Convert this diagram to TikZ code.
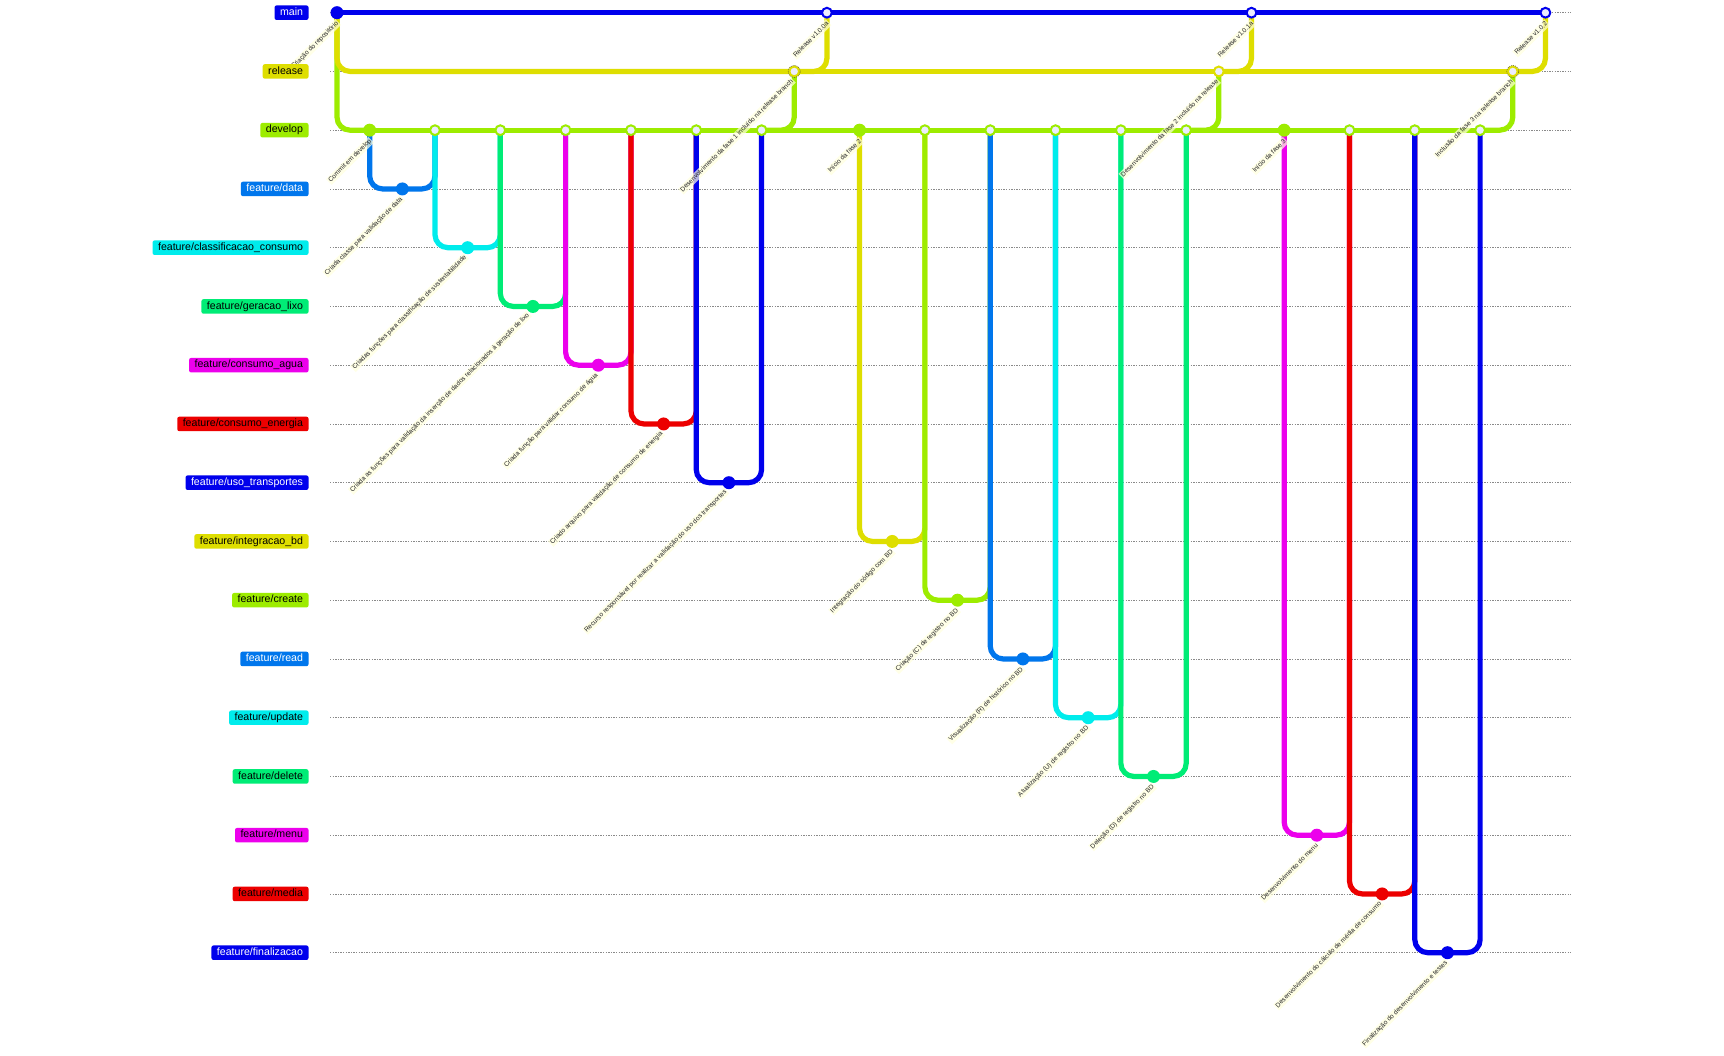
\documentclass[tikz,border=0pt]{standalone}
\usepackage{fontspec}
\setmainfont{Liberation Sans}
\definecolor{c0}{HTML}{0000EC}
\definecolor{c1}{HTML}{DEDE00}
\definecolor{c2}{HTML}{9DEC00}
\definecolor{c3}{HTML}{0076EC}
\definecolor{c4}{HTML}{00ECEC}
\definecolor{c5}{HTML}{00EC76}
\definecolor{c6}{HTML}{EC00EC}
\definecolor{c7}{HTML}{EC0000}
\definecolor{mergefill}{HTML}{ECECFF}
\definecolor{lblbg}{HTML}{FFFFDE}
\definecolor{lanegray}{HTML}{8A8A8A}
\newcommand\clab[5]{\node[clab] (#1) at ({cx(#2)+3-0.08*#4},{ly(#3)+10-0.036*#4}) {#5};}
\begin{document}
\begin{tikzpicture}[x=1pt,y=-1pt,
  declare function={cx(\i)=337+32.66*\i; ly(\k)=12.7+58.75*\k;},
  lane/.style={draw=lanegray, line width=0.65pt, dash pattern=on 1.3pt off 1.3pt},
  arr/.style={line width=5.2pt, rounded corners=13pt},
  cm/.style={circle, inner sep=0pt, outer sep=0pt, minimum size=13pt, fill=#1},
  mg/.style={circle, inner sep=0pt, outer sep=0pt, minimum size=9.8pt, fill=mergefill, draw=#1, line width=2pt},
  blab/.style={font=\fontsize{10.6}{12}\selectfont, rounded corners=2pt, inner xsep=5.5pt, inner ysep=0pt,
    text height=8pt, text depth=2.5pt, minimum height=14.5pt, anchor=east},
  clab/.style={font=\fontsize{6.5}{7}\selectfont, text=black!85, fill=lblbg, fill opacity=0.7, text opacity=1,
    inner sep=1pt, text height=4.8pt, text depth=1.4pt, rotate=45, anchor=east}
]
\fill[white] (0,0) rectangle (1724,1056);
\useasboundingbox (0,0) rectangle (1724,1056);

% lanes
\foreach \k in {0,...,16} {
  \draw[lane] (330,{ly(\k)}) -- (1571,{ly(\k)});
}

% commit positions
\foreach \i/\k in {0/0,1/2,2/3,3/2,4/4,5/2,6/5,7/2,8/6,9/2,10/7,11/2,12/8,13/2,14/1,15/0,
  16/2,17/9,18/2,19/10,20/2,21/11,22/2,23/12,24/2,25/13,26/2,27/1,28/0,29/2,30/14,31/2,
  32/15,33/2,34/16,35/2,36/1,37/0} {
  \coordinate (p\i) at ({cx(\i)},{ly(\k)});
}

% connectors
\draw[arr,c2] (p0) |- (p1);
\draw[arr,c3] (p1) |- (p2);
\draw[arr,c2] (p1) -- (p3);
\draw[arr,c3] (p2) -| (p3);
\draw[arr,c4] (p3) |- (p4);
\draw[arr,c2] (p3) -- (p5);
\draw[arr,c4] (p4) -| (p5);
\draw[arr,c5] (p5) |- (p6);
\draw[arr,c2] (p5) -- (p7);
\draw[arr,c5] (p6) -| (p7);
\draw[arr,c6] (p7) |- (p8);
\draw[arr,c2] (p7) -- (p9);
\draw[arr,c6] (p8) -| (p9);
\draw[arr,c7] (p9) |- (p10);
\draw[arr,c2] (p9) -- (p11);
\draw[arr,c7] (p10) -| (p11);
\draw[arr,c0] (p11) |- (p12);
\draw[arr,c2] (p11) -- (p13);
\draw[arr,c0] (p12) -| (p13);
\draw[arr,c1] (p0) |- (p14);
\draw[arr,c2] (p13) -| (p14);
\draw[arr,c0] (p0) -- (p15);
\draw[arr,c1] (p14) -| (p15);
\draw[arr,c2] (p13) -- (p16);
\draw[arr,c1] (p16) |- (p17);
\draw[arr,c2] (p16) -- (p18);
\draw[arr,c1] (p17) -| (p18);
\draw[arr,c2] (p18) |- (p19);
\draw[arr,c2] (p18) -- (p20);
\draw[arr,c2] (p19) -| (p20);
\draw[arr,c3] (p20) |- (p21);
\draw[arr,c2] (p20) -- (p22);
\draw[arr,c3] (p21) -| (p22);
\draw[arr,c4] (p22) |- (p23);
\draw[arr,c2] (p22) -- (p24);
\draw[arr,c4] (p23) -| (p24);
\draw[arr,c5] (p24) |- (p25);
\draw[arr,c2] (p24) -- (p26);
\draw[arr,c5] (p25) -| (p26);
\draw[arr,c1] (p14) -- (p27);
\draw[arr,c2] (p26) -| (p27);
\draw[arr,c0] (p15) -- (p28);
\draw[arr,c1] (p27) -| (p28);
\draw[arr,c2] (p26) -- (p29);
\draw[arr,c6] (p29) |- (p30);
\draw[arr,c2] (p29) -- (p31);
\draw[arr,c6] (p30) -| (p31);
\draw[arr,c7] (p31) |- (p32);
\draw[arr,c2] (p31) -- (p33);
\draw[arr,c7] (p32) -| (p33);
\draw[arr,c0] (p33) |- (p34);
\draw[arr,c2] (p33) -- (p35);
\draw[arr,c0] (p34) -| (p35);
\draw[arr,c1] (p27) -- (p36);
\draw[arr,c2] (p35) -| (p36);
\draw[arr,c0] (p28) -- (p37);
\draw[arr,c1] (p36) -| (p37);

% commits
\foreach \i/\c in {0/c0,1/c2,2/c3,4/c4,6/c5,8/c6,10/c7,12/c0,16/c2,17/c1,19/c2,21/c3,23/c4,25/c5,29/c2,30/c6,32/c7,34/c0} {
  \node[cm=\c] (c\i) at (p\i) {};
}
\foreach \i/\c in {3/c2,5/c2,7/c2,9/c2,11/c2,13/c2,14/c1,15/c0,18/c2,20/c2,22/c2,24/c2,26/c2,27/c1,28/c0,31/c2,33/c2,35/c2,36/c1,37/c0} {
  \node[mg=\c] (c\i) at (p\i) {};
}
\draw[draw=olive!70!black, line width=0.6pt, dash pattern=on 1pt off 1pt] (c14) circle (6pt);
\draw[draw=olive!70!black, line width=0.6pt, dash pattern=on 1pt off 1pt] (c36) circle (6pt);

% commit labels
\clab{l0}{0}{0}{22}{Criação do repositório}
\clab{l1}{1}{2}{17}{Commit em develop}
\clab{l2}{2}{3}{36}{Criada classe para validação de data}
\clab{l4}{4}{4}{54}{Criadas funções para classificação de sustentabilidade}
\clab{l6}{6}{5}{84}{Criada as funções para validação da inserção de dados relacionados à geração de lixo}
\clab{l8}{8}{6}{42}{Criada função para validar consumo de água}
\clab{l10}{10}{7}{51}{Criado arquivo para validação de consumo de energia}
\clab{l12}{12}{8}{67}{Recurso responsável por realizar a validação do uso dos transportes}
\clab{l14}{14}{1}{52}{Desenvolvimento da fase 1 incluído na release branch}
\clab{l15}{15}{0}{15}{Release v1.0.0a}
\clab{l16}{16}{2}{16}{Início da fase 2}
\clab{l17}{17}{9}{27}{Integração do código com BD}
\clab{l19}{19}{10}{29}{Criação (C) de registro no BD}
\clab{l21}{21}{11}{35}{Visualização (R) de histórico no BD}
\clab{l23}{23}{12}{33}{Atualização (U) de registro no BD}
\clab{l25}{25}{13}{29}{Deleção (D) de registro no BD}
\clab{l27}{27}{1}{45}{Desenvolvimento da fase 2 incluído na release}
\clab{l28}{28}{0}{15}{Release v1.0.1a}
\clab{l29}{29}{2}{16}{Início da fase 3}
\clab{l30}{30}{14}{23}{Desenvolvimento do menu}
\clab{l32}{32}{15}{46}{Desenvolvimento do cálculo de média de consumo}
\clab{l34}{34}{16}{39}{Finalização do desenvolvimento e testes}
\clab{l36}{36}{1}{36}{Inclusão da fase 3 na release branch}
\clab{l37}{37}{0}{14}{Release v1.0.2}

% branch labels
\node[blab, fill=c0, text=white] (b0) at (308.7,{ly(0)}) {main};
\node[blab, fill=c1] (b1) at (308.7,{ly(1)}) {release};
\node[blab, fill=c2] (b2) at (308.7,{ly(2)}) {develop};
\node[blab, fill=c3, text=white] (b3) at (308.7,{ly(3)}) {feature/data};
\node[blab, fill=c4] (b4) at (308.7,{ly(4)}) {feature/classificacao\_consumo};
\node[blab, fill=c5] (b5) at (308.7,{ly(5)}) {feature/geracao\_lixo};
\node[blab, fill=c6] (b6) at (308.7,{ly(6)}) {feature/consumo\_agua};
\node[blab, fill=c7] (b7) at (308.7,{ly(7)}) {feature/consumo\_energia};
\node[blab, fill=c0, text=white] (b8) at (308.7,{ly(8)}) {feature/uso\_transportes};
\node[blab, fill=c1] (b9) at (308.7,{ly(9)}) {feature/integracao\_bd};
\node[blab, fill=c2] (b10) at (308.7,{ly(10)}) {feature/create};
\node[blab, fill=c3, text=white] (b11) at (308.7,{ly(11)}) {feature/read};
\node[blab, fill=c4] (b12) at (308.7,{ly(12)}) {feature/update};
\node[blab, fill=c5] (b13) at (308.7,{ly(13)}) {feature/delete};
\node[blab, fill=c6] (b14) at (308.7,{ly(14)}) {feature/menu};
\node[blab, fill=c7] (b15) at (308.7,{ly(15)}) {feature/media};
\node[blab, fill=c0, text=white] (b16) at (308.7,{ly(16)}) {feature/finalizacao};
\end{tikzpicture}
\end{document}
